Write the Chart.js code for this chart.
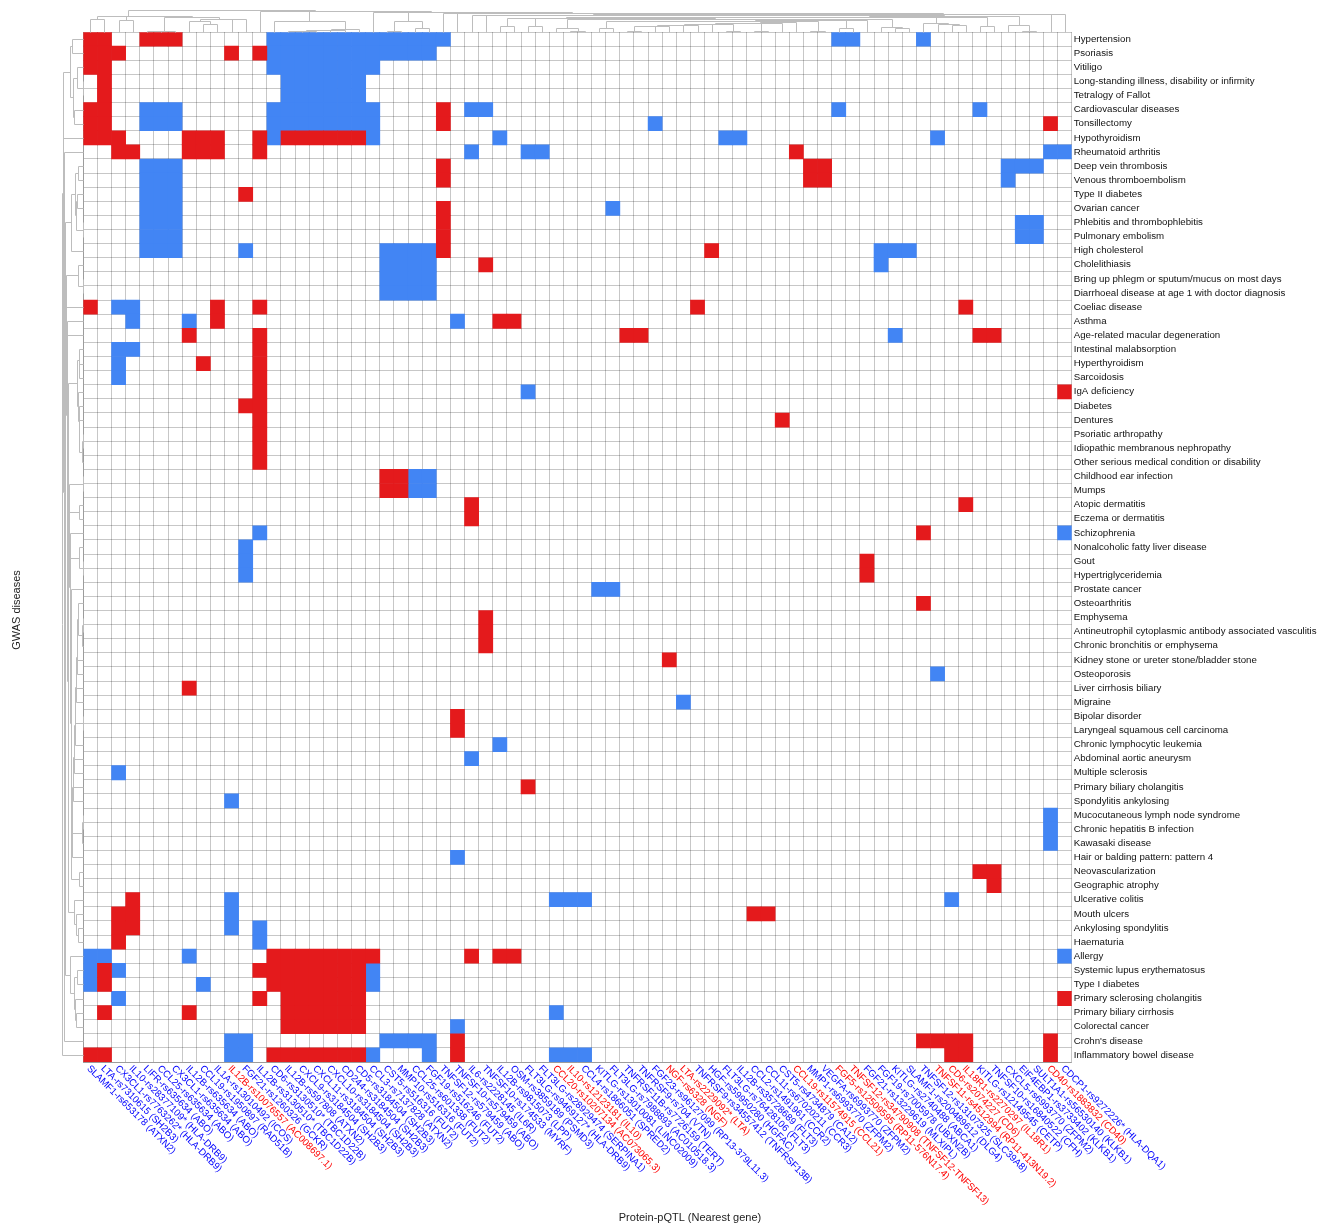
<!DOCTYPE html>
<html><head><meta charset="utf-8">
<script src="https://cdn.jsdelivr.net/npm/chart.js@4.4.1/dist/chart.umd.min.js"></script>
<style>html,body{margin:0;padding:0;background:#fff}#wrap{width:1318px;height:1225px;position:relative}</style>
</head><body><div id="wrap"><canvas id="c"></canvas></div>
<script>
const diseases = [
'Hypertension','Psoriasis','Vitiligo','Long-standing illness, disability or infirmity','Tetralogy of Fallot',
'Cardiovascular diseases','Tonsillectomy','Hypothyroidism','Rheumatoid arthritis','Deep vein thrombosis',
'Venous thromboembolism','Type II diabetes','Ovarian cancer','Phlebitis and thrombophlebitis','Pulmonary embolism',
'High cholesterol','Cholelithiasis','Bring up phlegm or sputum/mucus on most days','Diarrhoeal disease at age 1 with doctor diagnosis','Coeliac disease',
'Asthma','Age-related macular degeneration','Intestinal malabsorption','Hyperthyroidism','Sarcoidosis',
'IgA deficiency','Diabetes','Dentures','Psoriatic arthropathy','Idiopathic membranous nephropathy',
'Other serious medical condition or disability','Childhood ear infection','Mumps','Atopic dermatitis','Eczema or dermatitis',
'Schizophrenia','Nonalcoholic fatty liver disease','Gout','Hypertriglyceridemia','Prostate cancer',
'Osteoarthritis','Emphysema','Antineutrophil cytoplasmic antibody associated vasculitis','Chronic bronchitis or emphysema','Kidney stone or ureter stone/bladder stone',
'Osteoporosis','Liver cirrhosis biliary','Migraine','Bipolar disorder','Laryngeal squamous cell carcinoma',
'Chronic lymphocytic leukemia','Abdominal aortic aneurysm','Multiple sclerosis','Primary biliary cholangitis','Spondylitis ankylosing',
'Mucocutaneous lymph node syndrome','Chronic hepatitis B infection','Kawasaki disease','Hair or balding pattern: pattern 4','Neovascularization',
'Geographic atrophy','Ulcerative colitis','Mouth ulcers','Ankylosing spondylitis','Haematuria',
'Allergy','Systemic lupus erythematosus','Type I diabetes','Primary sclerosing cholangitis','Primary biliary cirrhosis',
'Colorectal cancer',"Crohn's disease",'Inflammatory bowel disease'
];

const pqtls = [
'SLAMF1-rs653178 (ATXN2)','LTA-rs7310615 (SH2B3)','CX3CL1-rs7763262* (HLA-DRB9)','IL10-rs28377109* (HLA-DRB9)','LIFR-rs635634 (ABO)',
'CCL25-rs635634 (ABO)','CX3CL1-rs635634 (ABO)','IL12B-rs635634 (ABO)','CCL19-rs1950897 (RAD51B)','IL1A-rs13010492 (ICOS)',
'IL12B-rs10076557 (AC008697.1)','FGF21-rs1260326 (GCKR)','IL12B-rs3130510* (TBC1D22B)','CD6-rs3130510* (TBC1D22B)','IL12B-rs597808 (ATXN2)',
'CXCL9-rs3184504 (SH2B3)','CXCL11-rs3184504 (SH2B3)','CXCL10-rs3184504 (SH2B3)','CD244-rs3184504 (SH2B3)','CD5-rs3184504 (SH2B3)',
'CCL3-rs7137828 (ATXN2)','CST5-rs516316 (FUT2)','MMP10-rs516316 (FUT2)','CCL25-rs601338 (FUT2)','FGF19-rs516246 (FUT2)',
'TNFSF12-rs579459 (ABO)','TNFSF10-rs579459 (ABO)','IL6-rs2228145 (IL6R)','TNFSF10-rs174533 (MYRF)','IL12B-rs9815073 (LPP)',
'OSM-rs3859189 (PSMD3)','FLT3LG-rs9469127* (HLA-DRB9)','FLT3LG-rs28929474 (SERPINA1)','CCL20-rs10207134 (AC073065.3)','IL10-rs12123181 (IL10)',
'CCL4-rs1866051 (SPRED2)','KITLG-rs13010081 (LINC02009)','FLT3LG-rs7988893 (AC010518.3)','TNFRSF11B-rs7726159 (TERT)','TNFRSF9-rs704 (VTN)',
'FGF23-rs96127099 (RP13-379L11.3)','NGF-rs6328 (NGF)','LTA-rs2229092* (LTA)','TNFRSF9-rs34557412 (TNFRSF13B)','HGF-rs59950280 (HGFAC)',
'FLT3LG-rs76428106 (FLT3)','IL12B-rs35728689 (FLT3)','CCL2-rs1491961 (CCR2)','CCL11-rs67020211 (CCR3)','CST5-rs4734879 (CA12)',
'CCL19-rs11574915 (CCL21)','MMP1-rs6993770 (ZFPM2)','VEGFA-rs6993770 (ZFPM2)','FGF5-rs12509595 (RP11-576N17.4)','TNFSF12-rs34790908 (TNFSF12-TNFSF13)',
'FGF21-rs13229619 (MLXIPL)','FGF19-rs7005978 (UBXN2B)','KITLG-rs2740488 (ABCA1)','SLAMF1-rs200489612 (DLG4)','TNFSF12-rs13107325 (SLC39A8)',
'TNFSF11-rs4512994 (RP11-413N19.2)','CD6-rs2074227 (CD6)','IL18R1-rs2270297 (IL18R1)','KITLG-rs12149545 (CETP)','TNFSF10-rs16840522 (CFH)',
'CXCL5-rs6993770 (ZFPM2)','EIF4EBP1-rs3733402 (KLKB1)','SULT1A1-rs56530140 (KLKB1)','CD40-rs1883832 (CD40)','CDCP1-rs9272226* (HLA-DQA1)'
];

// pQTL labels drawn in red (others blue)
const redLabelIdx = [10,33,34,41,42,50,53,54,60,61,62,68];

// red cells (positive association) per disease: column indices
const positiveCells = [
[0,1,4,5,6],[0,1,2,10,12],[0,1],[1],[1],
[0,1,25],[0,1,25,68],[0,1,2,7,8,9,12,14,15,16,17,18,19],[2,3,7,8,9,12,50],[25,51,52],
[25,51,52],[11],[25],[25],[25],
[25,44],[28],[],[],[0,9,12,43,62],
[9,29,30],[7,12,38,39,63,64],[12],[8,12],[12],
[12,69],[11,12],[12,49],[12],[12],
[12],[21,22],[21,22],[27,62],[27],
[59],[],[55],[55],[],
[59],[28],[28],[28],[41],
[],[7],[],[26],[26],
[],[],[],[31],[],
[],[],[],[],[63,64],
[64],[3],[2,3,47,48],[2,3],[2],
[13,14,15,16,17,18,19,20,27,29,30],[1,12,13,14,15,16,17,18,19],[1,13,14,15,16,17,18,19],[12,14,15,16,17,18,19,69],[1,7,14,15,16,17,18,19],
[14,15,16,17,18,19],[26,59,60,61,62,68],[0,1,13,14,15,16,17,18,19,26,61,62,68]
];

// blue cells (negative association) per disease: column indices
const negativeCells = [
[13,14,15,16,17,18,19,20,21,22,23,24,25,53,54,59],[13,14,15,16,17,18,19,20,21,22,23,24],[13,14,15,16,17,18,19,20],[14,15,16,17,18,19],[14,15,16,17,18,19],
[4,5,6,13,14,15,16,17,18,19,20,27,28,53,63],[4,5,6,13,14,15,16,17,18,19,20,40],[13,20,29,45,46,60],[27,31,32,68,69],[4,5,6,65,66,67],
[4,5,6,65],[4,5,6],[4,5,6,37],[4,5,6,66,67],[4,5,6,66,67],
[4,5,6,11,21,22,23,24,56,57,58],[21,22,23,24,56],[21,22,23,24],[21,22,23,24],[2,3],
[3,7,26],[57],[2,3],[2],[2],
[31],[],[],[],[],
[],[23,24],[23,24],[],[],
[12,69],[11],[11],[11],[36,37],
[],[],[],[],[],
[60],[],[42],[],[],
[29],[27],[2],[],[10],
[68],[68],[68],[26],[],
[],[10,33,34,35,61],[10],[10,12],[12],
[0,1,7,69],[0,2,20],[0,8,20],[2],[33],
[26],[10,11,21,22,23,24],[10,11,20,24,33,34,35]
];

const RED = '#e41a1c', BLUE = '#4285f4';
const LABEL_RED = '#ff0000', LABEL_BLUE = '#0000ff';
const GRID = 'rgba(0,0,0,0.22)';
const FONT = '"Liberation Sans", Arial, Helvetica, sans-serif';
Chart.defaults.font.family = FONT;

const nRows = diseases.length, nCols = pqtls.length;
const posData = [], negData = [];
positiveCells.forEach((cols, r) => cols.forEach(c => posData.push({x: pqtls[c], y: [r, r + 1]})));
negativeCells.forEach((cols, r) => cols.forEach(c => negData.push({x: pqtls[c], y: [r, r + 1]})));

// value matrix (1 / -1 / 0) used for the dendrograms
const M = diseases.map(() => pqtls.map(() => 0));
positiveCells.forEach((cols, r) => cols.forEach(c => { M[r][c] = 1; }));
negativeCells.forEach((cols, r) => cols.forEach(c => { M[r][c] = -1; }));
const rowVecs = M;
const colVecs = pqtls.map((_, c) => M.map(row => row[c]));

// order-preserving average-linkage clustering (adjacent merges only)
function orderedLinkage(vecs) {
  const n = vecs.length, D = [];
  for (let i = 0; i < n; i++) { D[i] = []; for (let j = 0; j < n; j++) { let s = 0; for (let k = 0; k < vecs[i].length; k++) { const d = vecs[i][k] - vecs[j][k]; s += d * d; } D[i][j] = Math.sqrt(s); } }
  let cl = vecs.map((v, i) => ({m: [i], h: 0, p: i}));
  const links = [];
  while (cl.length > 1) {
    let bi = 0, bd = Infinity;
    for (let k = 0; k < cl.length - 1; k++) {
      let s = 0;
      for (const i of cl[k].m) for (const j of cl[k + 1].m) s += D[i][j];
      const d = s / (cl[k].m.length * cl[k + 1].m.length);
      if (d < bd - 1e-9) { bd = d; bi = k; }
    }
    const a = cl[bi], b = cl[bi + 1];
    const h = Math.max(bd, a.h, b.h) + 0.15;
    links.push({p1: a.p, h1: a.h, p2: b.p, h2: b.h, h});
    cl.splice(bi, 2, {m: a.m.concat(b.m), h, p: (a.p + b.p) / 2});
  }
  return links;
}
const rowLinks = orderedLinkage(rowVecs);
const colLinks = orderedLinkage(colVecs);

const decor = {
  id: 'decor',
  afterDraw(chart) {
    const {ctx, chartArea: ca, scales} = chart;
    const xs = scales.x, ys = scales.y;
    ctx.save();
    // column labels, rotated 45deg clockwise, starting at the column
    ctx.font = '9.7px ' + FONT;
    ctx.textAlign = 'left';
    ctx.textBaseline = 'middle';
    pqtls.forEach((lab, i) => {
      const x = xs.getPixelForTick(i);
      ctx.save();
      ctx.translate(x - 2, ca.bottom + 5);
      ctx.rotate(Math.PI / 4);
      ctx.fillStyle = redLabelIdx.includes(i) ? LABEL_RED : LABEL_BLUE;
      ctx.fillText(lab, 0, 0);
      ctx.restore();
    });
    // axis titles
    ctx.fillStyle = '#222';
    ctx.font = '11px ' + FONT;
    ctx.textAlign = 'center';
    ctx.fillText('Protein-pQTL (Nearest gene)', 690, 1218);
    ctx.save();
    ctx.translate(17, 610);
    ctx.rotate(-Math.PI / 2);
    ctx.fillText('GWAS diseases', 0, 0);
    ctx.restore();
    // dendrograms
    ctx.strokeStyle = '#bdbdbd';
    ctx.lineWidth = 1;
    const rMax = rowLinks[rowLinks.length - 1].h;
    const cMax = colLinks[colLinks.length - 1].h;
    const leftRoot = 62, topRoot = 10;
    const lx = h => Math.round(ca.left - (h / rMax) * (ca.left - leftRoot)) + 0.5;
    const ly = p => Math.round(ys.getPixelForValue(p + 0.5)) + 0.5;
    ctx.beginPath();
    rowLinks.forEach(L => {
      const x = lx(L.h);
      ctx.moveTo(lx(L.h1), ly(L.p1)); ctx.lineTo(x, ly(L.p1)); ctx.lineTo(x, ly(L.p2)); ctx.lineTo(lx(L.h2), ly(L.p2));
    });
    ctx.stroke();
    const ty = h => Math.round(ca.top - (h / cMax) * (ca.top - topRoot)) + 0.5;
    const tx = p => Math.round(xs.getPixelForValue(p)) + 0.5;
    ctx.beginPath();
    colLinks.forEach(L => {
      const y = ty(L.h);
      ctx.moveTo(tx(L.p1), ty(L.h1)); ctx.lineTo(tx(L.p1), y); ctx.lineTo(tx(L.p2), y); ctx.lineTo(tx(L.p2), ty(L.h2));
    });
    ctx.stroke();
    ctx.restore();
  }
};

const barCommon = {grouped: false, categoryPercentage: 1, barPercentage: 1, borderWidth: 0, borderSkipped: false, xAxisID: 'x', yAxisID: 'y'};

new Chart(document.getElementById('c'), {
  type: 'bar',
  data: {
    labels: pqtls,
    datasets: [
      Object.assign({label: 'Positive', data: posData, backgroundColor: RED}, barCommon),
      Object.assign({label: 'Negative', data: negData, backgroundColor: BLUE}, barCommon)
    ]
  },
  options: {
    responsive: true,
    maintainAspectRatio: false,
    animation: false,
    layout: {padding: {top: 32, left: 0, right: 0, bottom: 0}},
    plugins: {legend: {display: false}, tooltip: {enabled: false}},
    scales: {
      x: {
        type: 'category', position: 'bottom', offset: true, z: 1,
        grid: {offset: true, color: GRID, drawTicks: false, lineWidth: 1},
        border: {color: GRID},
        ticks: {display: false, autoSkip: false},
        afterFit(s) { s.height = 163; }
      },
      y: {
        type: 'linear', position: 'left', min: 0, max: nRows, reverse: true, z: 1,
        grid: {color: GRID, drawTicks: false},
        border: {color: GRID},
        ticks: {display: false},
        afterBuildTicks(s) { s.ticks = diseases.map((_, i) => ({value: i})).concat([{value: nRows}]); },
        afterFit(s) { s.width = 83.3; }
      },
      y2: {
        type: 'category', labels: diseases, position: 'right', offset: true,
        grid: {display: false, drawTicks: false},
        border: {display: false},
        ticks: {autoSkip: false, padding: 2, color: '#111', font: {size: 9.7, family: FONT}},
        afterFit(s) { s.width = 1318 - 1071.7; }
      }
    }
  },
  plugins: [decor]
});
</script>
</body></html>
